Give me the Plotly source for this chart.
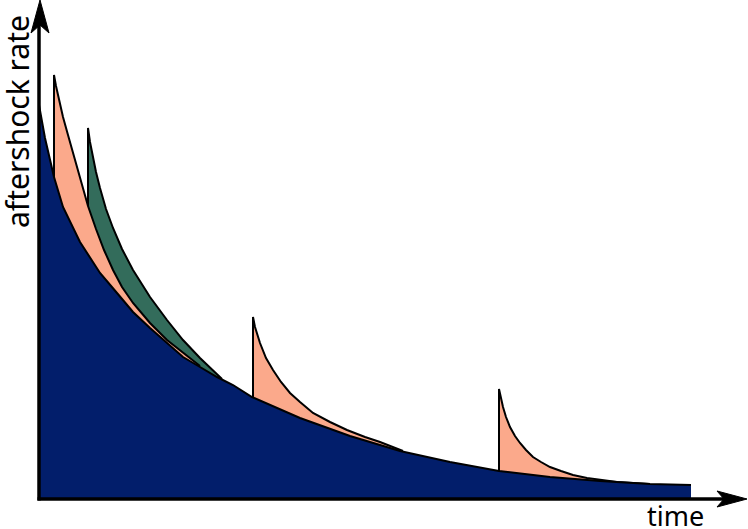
"""
Schematic of aftershock rate decay with secondary aftershock sequences.
"""

import plotly.graph_objects as go

# main sequence (time, rate)
main_time = [0, 6, 15, 24, 41, 61, 78, 94, 111, 128, 144, 161, 178, 194, 213,
             261, 311, 361, 411, 460, 511, 561, 611, 652]
main_rate = [394, 361, 322, 292, 257, 226, 206, 187, 171, 156, 142, 132, 122, 114, 102,
             81, 63, 48, 37, 28, 22, 18, 15, 14]

# first secondary sequence (salmon)
sec1_time = [15, 15, 17, 20, 24, 29, 35, 42, 49, 57, 65, 74, 83, 94, 111, 128, 144, 161]
sec1_rate = [322, 424, 413, 399, 382, 364, 342, 317, 293, 270, 249, 229, 212, 196, 176, 159, 146, 133]

# second secondary sequence (green)
sec2_time = [49, 49, 51, 54, 57, 61, 67, 74, 83, 94, 111, 128, 144, 161, 178, 183]
sec2_rate = [293, 371, 357, 341, 327, 311, 290, 271, 250, 229, 202, 179, 159, 141, 124, 120]

# third secondary sequence (salmon)
sec3_time = [214, 214, 216, 221, 227, 234, 242, 251, 261, 274, 291, 308, 326, 341, 364]
sec3_rate = [101, 182, 172, 156, 141, 129, 117, 106, 97, 86, 77, 69, 62, 57, 48]

# fourth secondary sequence (salmon)
sec4_time = [460, 460, 462, 464, 467, 471, 476, 481, 487, 494, 502, 511, 522, 534, 548,
             561, 578, 594, 611]
sec4_rate = [28, 110, 101, 92, 82, 72, 63, 56, 49, 42, 37, 32, 28, 24, 21, 19, 17, 16, 15]

NAVY = "#021e6b"
SALMON = "#fba98b"
GREEN = "#336c5b"

fig = go.Figure()


def add_area(t, r, color):
    fig.add_trace(go.Scatter(
        x=t, y=r, mode="lines", fill="tozeroy", fillcolor=color,
        line=dict(color="black", width=2), hoverinfo="skip", showlegend=False,
    ))


# drawing order matters: later traces cover earlier ones
add_area(sec2_time, sec2_rate, GREEN)
add_area(sec1_time, sec1_rate, SALMON)
add_area(sec3_time, sec3_rate, SALMON)
add_area(sec4_time, sec4_rate, SALMON)
add_area(main_time, main_rate, NAVY)

# axes with arrow heads
fig.add_shape(type="line", x0=0, y0=-1.5, x1=0, y1=474, line=dict(color="black", width=3.5))
fig.add_shape(type="line", x0=-1.5, y0=0, x1=686, y1=0, line=dict(color="black", width=3.5))
fig.add_shape(type="path", path="M 1,499 L 10,466 L 1,474 L -8,466 Z",
              fillcolor="black", line=dict(color="black", width=1))
fig.add_shape(type="path", path="M 708,0 L 678,8 L 685,0 L 678,-8 Z",
              fillcolor="black", line=dict(color="black", width=1))

fig.add_annotation(text="aftershock rate", x=-22, y=377, textangle=-90,
                   showarrow=False, font=dict(family="Noto Sans", size=30, color="black"))
fig.add_annotation(text="time", x=636, y=-16, showarrow=False,
                   font=dict(family="Noto Sans", size=27, color="black"))

fig.update_layout(
    width=748, height=529,
    margin=dict(l=0, r=0, t=0, b=0),
    plot_bgcolor="white", paper_bgcolor="white",
    xaxis=dict(range=[-39, 709], visible=False, fixedrange=True),
    yaxis=dict(range=[-30, 499], visible=False, fixedrange=True),
)

fig.write_html("out.html", config={"displayModeBar": False},
               post_script="document.body.style.margin='0';")
